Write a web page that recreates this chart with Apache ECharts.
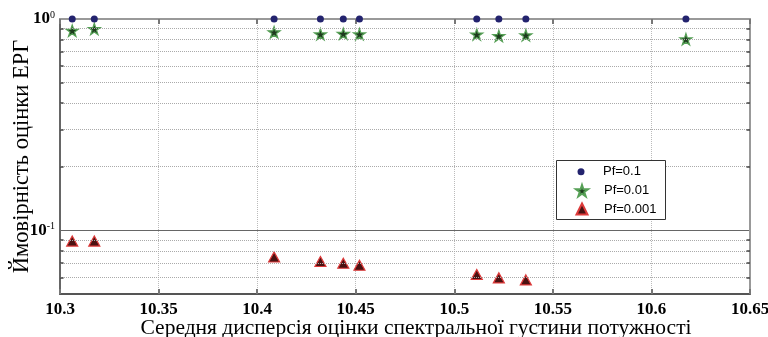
<!DOCTYPE html>
<html>
<head>
<meta charset="utf-8">
<script src="https://cdn.jsdelivr.net/npm/echarts@6/dist/echarts.min.js"></script>
<style>html,body{margin:0;padding:0;background:#fff}#c{width:768px;height:337px}</style>
</head>
<body>
<div id="c"></div>
<script>
// ---- data ----
var xTicks = [10.3, 10.35, 10.4, 10.45, 10.5, 10.55, 10.6, 10.65];
var xPf01 = [10.3062, 10.3174, 10.4086, 10.4321, 10.4437, 10.4519, 10.5114, 10.5226, 10.5363, 10.6175];
var yPf01 = [1, 1, 1, 1, 1, 1, 1, 1, 1, 1];
var xPf001 = [10.3062, 10.3174, 10.4086, 10.4321, 10.4437, 10.4519, 10.5114, 10.5226, 10.5363, 10.6175];
var yPf001 = [0.881, 0.897, 0.866, 0.847, 0.851, 0.847, 0.845, 0.831, 0.838, 0.802];
var xPf0001 = [10.3062, 10.3174, 10.4086, 10.4321, 10.4437, 10.4519, 10.5114, 10.5226, 10.5363];
var yPf0001 = [0.0890, 0.0890, 0.0748, 0.0712, 0.0699, 0.0684, 0.0618, 0.0596, 0.0583];
var seriesNames = ['Pf=0.1', 'Pf=0.01', 'Pf=0.001'];
var minorGrid = [0.06, 0.07, 0.08, 0.09, 0.2, 0.3, 0.4, 0.5, 0.6, 0.7, 0.8, 0.9];
var yTitle = 'Ймовірність оцінки ЕРГ';
var xTitle = 'Середня дисперсія оцінки спектральної густини потужності';

function pairs(xs, ys) { return xs.map(function (x, i) { return [x, ys[i]]; }); }

// five-pointed star symbol path
var starPath = (function () {
  var s = 'path://';
  for (var k = 0; k < 10; k++) {
    var a = (-90 + k * 36) * Math.PI / 180;
    var r = (k % 2 === 0) ? 10 : 3.82;
    s += (k === 0 ? 'M' : 'L') + (10 + r * Math.cos(a)).toFixed(3) + ',' + (10 + r * Math.sin(a)).toFixed(3) + ' ';
  }
  return s + 'Z';
})();

var serif = 'Liberation Serif';
var xMinTick = xTicks[0], xMaxTick = xTicks[xTicks.length - 1];

var tickLines = [];
minorGrid.forEach(function (v) {
  tickLines.push([{ coord: [xMinTick, v] }, { coord: [xMinTick + 0.0018, v] }]);
  tickLines.push([{ coord: [xMaxTick - 0.0018, v] }, { coord: [xMaxTick, v] }]);
});

var chart = echarts.init(document.getElementById('c'), null, { renderer: 'canvas' });

function logLabel(v) {
  var e = Math.log10(v);
  if (Math.abs(e - Math.round(e)) > 1e-6) return '';
  return '{b|10}{s|' + Math.round(e) + '}';
}

// legend: icon centre x = 581, text start x = 603
function legendFor(name, size, centerY) {
  return {
    orient: 'vertical', left: 581 - size / 2, top: centerY - 7, padding: 0,
    itemWidth: size, itemHeight: size, z: 20, data: [name],
    textStyle: { fontFamily: 'Liberation Sans', fontSize: 13, color: '#000', lineHeight: 14,
      padding: [0, 0, 0, 603 - (581 + size / 2 + 5)] }
  };
}

chart.setOption({
  animation: false,
  backgroundColor: '#fff',
  grid: { left: 60, right: 18, top: 19, bottom: 43, outerBoundsMode: 'none', containLabel: false },
  graphic: [{
    type: 'rect', left: 556, top: 160, z: 10,
    shape: { width: 109, height: 59 },
    style: { fill: '#fff', stroke: '#333', lineWidth: 1 }
  }],
  legend: [
    legendFor(seriesNames[0], 7, 171.7),
    legendFor(seriesNames[1], 12, 190.7),
    legendFor(seriesNames[2], 11, 209)
  ],
  xAxis: [{
    type: 'value', position: 'bottom', min: xMinTick, max: xMaxTick, interval: 0.05,
    name: xTitle, nameLocation: 'middle', nameGap: 23, nameMoveOverlap: false,
    nameTextStyle: { fontFamily: serif, fontSize: 21.5, color: '#000', padding: [0, 0, 0, 22] },
    axisLine: { lineStyle: { color: '#555', width: 2 } },
    axisTick: { inside: true, length: 5, lineStyle: { color: '#777', width: 2 } },
    axisLabel: { margin: 7, fontFamily: serif, fontSize: 17, fontWeight: 'bold', color: '#000',
      formatter: function (v) { return String(+v.toFixed(2)); } },
    splitLine: { show: true, lineStyle: { color: '#bbb', type: 'dotted', width: 1 } }
  }, {
    type: 'value', position: 'top', min: xMinTick, max: xMaxTick, interval: 0.05,
    axisLine: { lineStyle: { color: '#999', width: 2 } },
    axisTick: { inside: true, length: 5, lineStyle: { color: '#777', width: 2 } },
    axisLabel: { show: false }, splitLine: { show: false }
  }],
  yAxis: [{
    type: 'log', logBase: 10, min: 0.05, max: 1, position: 'left',
    name: yTitle, nameLocation: 'middle', nameGap: 26, nameMoveOverlap: false,
    nameTextStyle: { fontFamily: serif, fontSize: 22.5, color: '#000' },
    axisLine: { show: true, lineStyle: { color: '#666', width: 2 } },
    axisTick: { show: false },
    axisLabel: {
      margin: 5, formatter: logLabel,
      rich: {
        b: { fontFamily: serif, fontSize: 17, fontWeight: 'bold', color: '#000', lineHeight: 18 },
        s: { fontFamily: serif, fontSize: 10, color: '#000', verticalAlign: 'top', lineHeight: 10 }
      }
    },
    splitLine: { show: true, lineStyle: { color: '#666', width: 1 } }
  }, {
    type: 'log', logBase: 10, min: 0.05, max: 1, position: 'right',
    axisLine: { show: true, lineStyle: { color: '#999', width: 2 } },
    axisTick: { show: false }, axisLabel: { show: false }, splitLine: { show: false }
  }],
  series: [{
    name: seriesNames[0], type: 'scatter', data: pairs(xPf01, yPf01),
    symbol: 'circle', symbolSize: 7, z: 5,
    itemStyle: { color: '#23236e', opacity: 1 },
    markLine: {
      silent: true, symbol: 'none', label: { show: false }, animation: false,
      lineStyle: { color: '#aaa', type: 'dotted', width: 1 },
      data: minorGrid.map(function (v) { return { yAxis: v }; })
    }
  }, {
    name: seriesNames[1], type: 'scatter', data: pairs(xPf001, yPf001),
    symbol: starPath, symbolSize: 12, symbolKeepAspect: true, z: 4,
    itemStyle: { color: '#1e3a1e', borderColor: '#56a056', borderWidth: 1.2, opacity: 1 },
    markLine: {
      silent: true, symbol: 'none', label: { show: false }, animation: false,
      lineStyle: { color: '#444', type: 'solid', width: 1.5 },
      data: tickLines
    }
  }, {
    name: seriesNames[2], type: 'scatter', data: pairs(xPf0001, yPf0001),
    symbol: 'triangle', symbolSize: [11, 10], z: 4,
    itemStyle: { color: '#4a1212', borderColor: '#dd3a3a', borderWidth: 1.2, opacity: 1 }
  }]
});
</script>
</body>
</html>
